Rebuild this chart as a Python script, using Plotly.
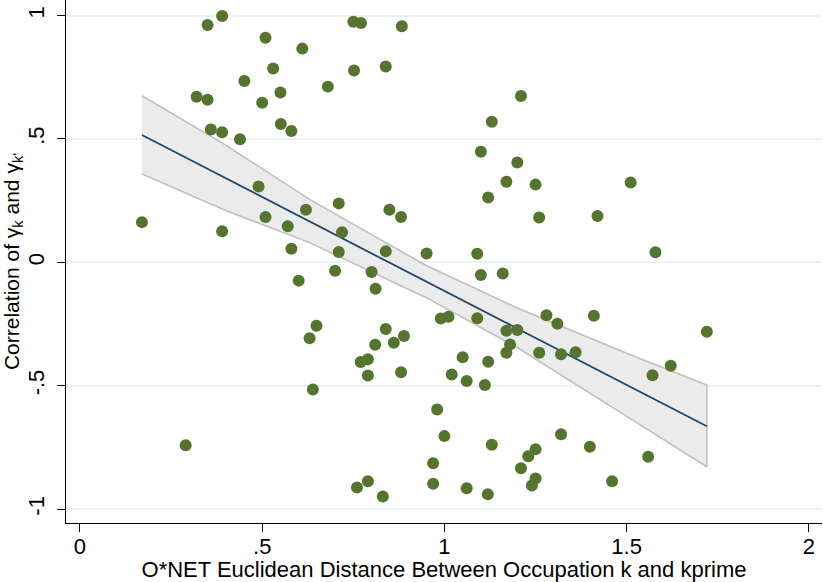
import plotly.graph_objects as go

# O*NET Euclidean distance between occupation k and kprime
dist = [0.170, 0.350, 0.390, 0.509, 0.610, 0.750, 0.771, 0.883, 0.530, 0.752,
        0.839, 0.451, 0.680, 0.320, 0.350, 0.500, 0.550, 0.359, 0.390, 0.439,
        0.551, 0.580, 0.490, 0.509, 0.390, 0.570, 0.620, 0.710, 0.719, 0.580,
        0.710, 0.839, 0.849, 0.881, 0.700, 0.800, 0.600, 0.811, 1.210, 1.130,
        1.100, 1.200, 1.170, 1.250, 1.511, 1.120, 1.260, 1.420, 0.951, 1.090,
        1.579, 1.100, 1.160, 0.649, 0.630, 0.839, 0.889, 0.810, 0.861, 0.770,
        0.790, 0.790, 0.881, 0.639, 0.290, 0.760, 0.790, 0.831, 0.990, 1.011,
        1.090, 1.280, 1.310, 1.410, 1.720, 1.170, 1.200, 1.180, 1.170, 1.260,
        1.320, 1.360, 1.050, 1.120, 1.020, 1.061, 1.111, 1.621, 1.571, 0.980,
        1.000, 1.130, 1.320, 1.399, 1.250, 1.230, 1.559, 0.969, 1.210, 0.969,
        1.061, 1.250, 1.240, 1.460, 1.119]

# Correlation of gamma_k and gamma_k'
corr = [0.163, 0.962, 0.998, 0.910, 0.866, 0.975, 0.970, 0.957, 0.785, 0.777,
        0.794, 0.735, 0.712, 0.671, 0.659, 0.647, 0.688, 0.538, 0.527, 0.499,
        0.561, 0.532, 0.307, 0.184, 0.126, 0.146, 0.213, 0.239, 0.122, 0.055,
        0.042, 0.045, 0.213, 0.184, -0.034, -0.039, -0.074, -0.107, 0.674, 0.570,
        0.448, 0.405, 0.327, 0.315, 0.324, 0.263, 0.182, 0.188, 0.036, 0.035,
        0.041, -0.051, -0.045, -0.257, -0.307, -0.270, -0.298, -0.334, -0.326, -0.404,
        -0.393, -0.458, -0.445, -0.515, -0.741, -0.912, -0.887, -0.949, -0.227, -0.220,
        -0.226, -0.214, -0.249, -0.216, -0.281, -0.277, -0.274, -0.333, -0.366, -0.366,
        -0.372, -0.364, -0.384, -0.403, -0.454, -0.481, -0.497, -0.419, -0.457, -0.596,
        -0.704, -0.739, -0.696, -0.747, -0.757, -0.786, -0.788, -0.814, -0.834, -0.897,
        -0.915, -0.876, -0.904, -0.887, -0.940]

# Linear fit line and its 95% confidence band
fit_x = [0.17, 1.72]
fit_y = [0.516, -0.664]
band_x = [0.17, 0.40, 0.63, 0.95, 1.20, 1.50, 1.72]
band_hi = [0.675, 0.475, 0.255, -0.013, -0.185, -0.368, -0.497]
band_lo = [0.358, 0.210, 0.080, -0.143, -0.345, -0.624, -0.828]

x_tickvals = [0, 0.5, 1, 1.5, 2]
x_ticktext = ["0", ".5", "1", "1.5", "2"]
y_tickvals = [-1, -0.5, 0, 0.5, 1]
y_ticktext = ["-1", "-.5", "0", ".5", "1"]

FONT = "Arial, Liberation Sans, Helvetica, sans-serif"
FS = 22

fig = go.Figure()
fig.add_trace(go.Scatter(
    x=band_x + band_x[::-1],
    y=band_hi + band_lo[::-1],
    fill="toself", fillcolor="#ebebeb",
    line=dict(color="#c0c0c0", width=1.6),
    mode="lines", hoverinfo="skip", showlegend=False))
fig.add_trace(go.Scatter(
    x=fit_x, y=fit_y, mode="lines",
    line=dict(color="#1a476f", width=1.8), showlegend=False))
fig.add_trace(go.Scatter(
    x=dist, y=corr, mode="markers",
    marker=dict(color="#55752f", size=12, line=dict(width=0)),
    showlegend=False))

fig.update_layout(
    width=823, height=582,
    margin=dict(l=66, r=1, t=0, b=59, autoexpand=False),
    paper_bgcolor="white", plot_bgcolor="white",
    font=dict(family=FONT, size=FS, color="black"),
    showlegend=False,
    xaxis=dict(
        range=[-0.0384, 2.036],
        tickvals=x_tickvals, ticktext=x_ticktext,
        ticks="outside", ticklen=8, tickwidth=1.2, tickcolor="black",
        showgrid=False, zeroline=False,
        showline=True, linecolor="black", linewidth=1.3,
        tickfont=dict(family=FONT, size=FS),
        ticklabelstandoff=-5,
        title=dict(text="O*NET Euclidean Distance Between Occupation k and kprime",
                   font=dict(family=FONT, size=FS), standoff=2),
    ),
    yaxis=dict(
        range=[-1.056, 1.063],
        tickvals=y_tickvals, ticktext=y_ticktext, tickangle=-90,
        ticks="outside", ticklen=8, tickwidth=1.2, tickcolor="black",
        showgrid=True, gridcolor="#eaf2f3", gridwidth=1.5,
        zeroline=False,
        showline=True, linecolor="black", linewidth=1.3,
        tickfont=dict(family=FONT, size=FS),
        ticklabelstandoff=4,
        title=dict(text="Correlation of γ<sub>k</sub> and γ<sub>k'</sub>",
                   font=dict(family=FONT, size=FS - 1), standoff=2),
    ),
)

fig.write_html("out.html", config={"displayModeBar": False},
               post_script="document.body.style.margin='0';")
